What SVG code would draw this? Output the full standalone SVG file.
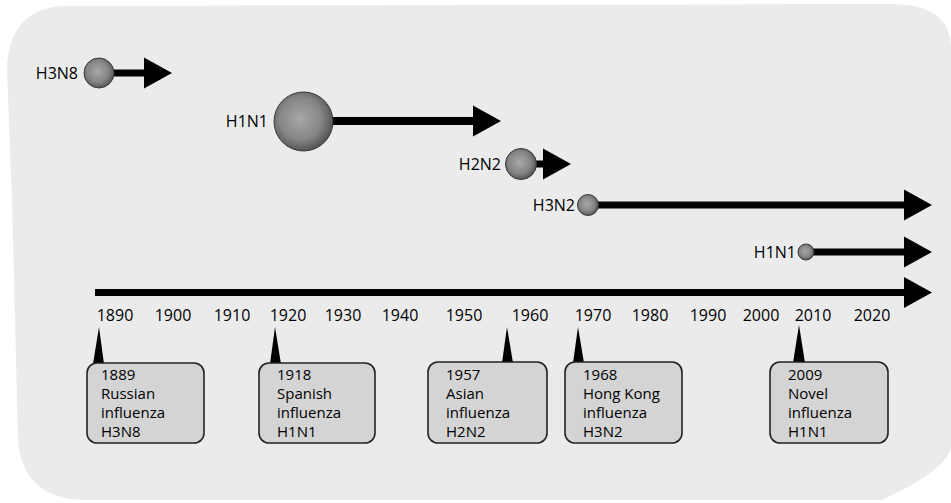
<svg xmlns="http://www.w3.org/2000/svg" width="951" height="503" viewBox="0 0 951 503">
<defs>
<radialGradient id="ball" cx="0.45" cy="0.45" r="0.6">
<stop offset="0" stop-color="#a8a8a8"/>
<stop offset="0.6" stop-color="#858585"/>
<stop offset="1" stop-color="#4a4a4a"/>
</radialGradient>
<marker id="ah" markerUnits="userSpaceOnUse" markerWidth="29" markerHeight="32" refX="0" refY="15.5" orient="auto" overflow="visible">
<path d="M0,0 L28,15.5 L0,31 Z" fill="#000"/>
</marker>
</defs>
<style>
.arrow{stroke:#000;stroke-width:7;fill:none;marker-end:url(#ah)}
.ball{fill:url(#ball);stroke:#3a3a3a;stroke-width:1}
.lbl{font-family:"Open Sans","Liberation Sans",sans-serif;font-size:16px;fill:#000;text-anchor:end}
.yr{font-family:"Open Sans","Liberation Sans",sans-serif;font-size:16px;fill:#000;text-anchor:middle}
.box{fill:#d4d4d4;stroke:#222;stroke-width:1.6}
.bt{font-family:"Open Sans","Liberation Sans",sans-serif;font-size:15px;fill:#000}
.ptr{fill:#000}
</style>
<rect width="951" height="503" fill="#fff"/>
<path d="M62,6 L890,4 Q951,4 951,48 L951,445 Q951,468 882,500 L80,500 Q22,496 18,440 L12,200 L7,70 Q8,10 62,6 Z" fill="#ebebeb"/>
<g id="connectors">
<line class="arrow" x1="110" y1="73" x2="144" y2="73"/>
<line class="arrow" x1="325" y1="121" x2="473" y2="121" style="stroke-width:8"/>
<line class="arrow" x1="530" y1="164" x2="543" y2="164"/>
<line class="arrow" x1="595" y1="205" x2="904" y2="205"/>
<line class="arrow" x1="812" y1="252" x2="904" y2="252"/>
<line class="arrow" x1="95" y1="292.5" x2="904" y2="292.5"/>
</g>
<g id="h3n8"><circle class="ball" cx="99" cy="73" r="15"/><text class="lbl" x="78" y="79">H3N8</text></g>
<g id="h1n1-1918"><circle class="ball" cx="303.5" cy="121.5" r="29.5"/><text class="lbl" x="268" y="127">H1N1</text></g>
<g id="h2n2"><circle class="ball" cx="521" cy="164" r="15.5"/><text class="lbl" x="501" y="170">H2N2</text></g>
<g id="h3n2"><circle class="ball" cx="588" cy="205" r="10.5"/><text class="lbl" x="575" y="211">H3N2</text></g>
<g id="h1n1-2009"><circle class="ball" cx="806" cy="252" r="8"/><text class="lbl" x="796" y="258">H1N1</text></g>
<g id="years">
<text class="yr" x="115" y="321">1890</text>
<text class="yr" x="173" y="321">1900</text>
<text class="yr" x="232" y="321">1910</text>
<text class="yr" x="288" y="321">1920</text>
<text class="yr" x="343" y="321">1930</text>
<text class="yr" x="400" y="321">1940</text>
<text class="yr" x="464" y="321">1950</text>
<text class="yr" x="530" y="321">1960</text>
<text class="yr" x="593" y="321">1970</text>
<text class="yr" x="650" y="321">1980</text>
<text class="yr" x="708" y="321">1990</text>
<text class="yr" x="761" y="321">2000</text>
<text class="yr" x="813" y="321">2010</text>
<text class="yr" x="872" y="321">2020</text>
</g>
<g id="box-1889">
<polygon class="ptr" points="99,327 93,364 104,364"/>
<rect class="box" x="87" y="363" width="117" height="80" rx="10"/>
<text class="bt" x="101" y="380">1889</text><text class="bt" x="101" y="399">Russian</text><text class="bt" x="101" y="418">influenza</text><text class="bt" x="101" y="437">H3N8</text>
</g>
<g id="box-1918">
<polygon class="ptr" points="275,327 270,364 281,364"/>
<rect class="box" x="259" y="363" width="116" height="80" rx="10"/>
<text class="bt" x="277" y="380">1918</text><text class="bt" x="277" y="399">Spanish</text><text class="bt" x="277" y="418">influenza</text><text class="bt" x="277" y="437">H1N1</text>
</g>
<g id="box-1957">
<polygon class="ptr" points="507,327 502,363 513,363"/>
<rect class="box" x="428" y="362" width="119" height="81" rx="10"/>
<text class="bt" x="446" y="380">1957</text><text class="bt" x="446" y="399">Asian</text><text class="bt" x="446" y="418">influenza</text><text class="bt" x="446" y="437">H2N2</text>
</g>
<g id="box-1968">
<polygon class="ptr" points="578,327 573,363 584,363"/>
<rect class="box" x="565" y="362" width="117" height="81" rx="10"/>
<text class="bt" x="583" y="380">1968</text><text class="bt" x="583" y="399">Hong Kong</text><text class="bt" x="583" y="418">influenza</text><text class="bt" x="583" y="437">H3N2</text>
</g>
<g id="box-2009">
<polygon class="ptr" points="799,325 793,363 805,363"/>
<rect class="box" x="770" y="362" width="118" height="81" rx="10"/>
<text class="bt" x="788" y="380">2009</text><text class="bt" x="788" y="399">Novel</text><text class="bt" x="788" y="418">influenza</text><text class="bt" x="788" y="437">H1N1</text>
</g>
</svg>
